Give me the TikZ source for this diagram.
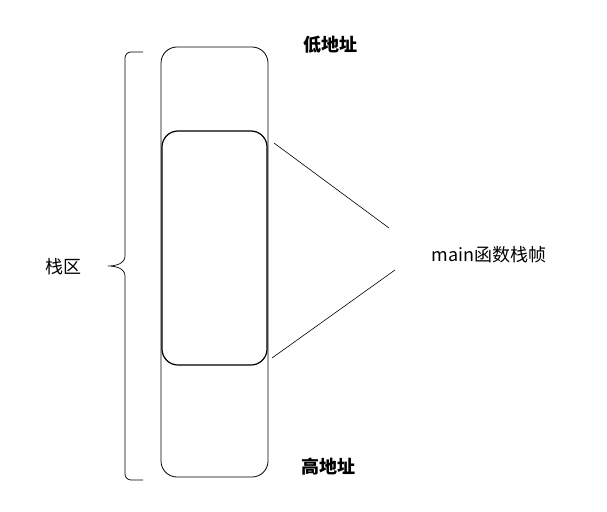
\documentclass[tikz,border=0pt]{standalone}
\usepackage{fontspec}
\setmainfont{Noto Sans CJK SC}
\begin{document}
\begin{tikzpicture}[x=1pt,y=-1pt,
  box/.style={draw=black,line width=0.8pt,rounded corners=16pt},
  lbl/.style={inner sep=0pt,font=\fontsize{18}{21}\selectfont},
  blbl/.style={inner sep=0pt,font=\fontsize{18}{21}\selectfont\bfseries},
  conn/.style={draw=black,line width=0.6pt}]
\useasboundingbox (0,0) rectangle (607,511);
% outer stack box
\draw[box] (161,47) rectangle (268,477);
% inner main frame box
\draw[box,line width=1.2pt] (162,131) rectangle (267,365);
% labels
\node[blbl] (low) at (330,45) {低地址};
\node[blbl] (high) at (328,467) {高地址};
\node[lbl] (mainf) at (489,255) {main函数栈帧};
\node[lbl] (stack) at (63,267) {栈区};
% connector end points
\coordinate (ta) at (274,143);
\coordinate (tb) at (389,228);
\coordinate (ba) at (272,358);
\coordinate (bb) at (395,270);
\draw[conn] (ta) -- (tb);
\draw[conn] (ba) -- (bb);
% brace
\coordinate (brTop) at (143,52);
\coordinate (brBot) at (143,480);
\coordinate (brTip) at (108,266);
\draw[conn,line width=0.7pt] (brTop) -- (131,52) to[out=180,in=90] (125,58) -- (125,256)
  to[out=-90,in=0] (brTip) to[out=0,in=90] (125,276) -- (125,474) to[out=-90,in=180] (131,480) -- (brBot);
\end{tikzpicture}
\end{document}
